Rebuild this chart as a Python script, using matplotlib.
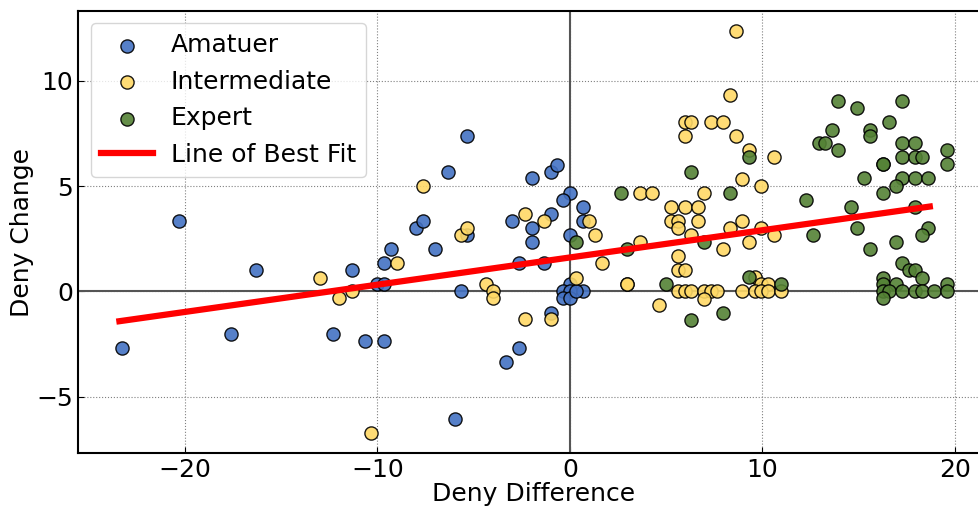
import matplotlib.pyplot as plt

# --- data --------------------------------------------------------------------

amateur_x = [-20.3, -23.26, -16.29, -11.31, -17.6, -12.3, -10.64, -9.65, -9.31, -9.65,
             -10.0, -9.65, -8.0, -7.65, -5.32, -6.31, -1.99, -1.0, -0.67, 0.0,
             -0.35, 0.66, -3.0, -1.0, 0.66, -1.99, -5.34, 0.0, -1.99, -6.98,
             -2.66, -1.35, -5.68, 0.0, -0.35, 0.0, 0.66, -0.35, 0.0, 0.33,
             -1.0, -2.66, -3.33, -5.99]
amateur_y = [3.33, -2.70, 1.0, 1.0, -2.04, -2.04, -2.35, -2.35, 2.0, 1.34,
             0.33, 0.33, 3.0, 3.35, 7.38, 5.69, 5.37, 5.69, 6.02, 4.68,
             4.36, 4.01, 3.35, 3.67, 3.35, 3.02, 2.67, 2.67, 2.34, 2.0,
             1.34, 1.34, 0.0, 0.35, 0.0, 0.0, 0.0, -0.33, -0.33, 0.0,
             -1.01, -2.67, -3.35, -6.07]

inter_x = [-12.97, -11.99, -11.31, -10.31, -8.98, -7.65, -2.35, -1.35, 1.0, -5.68,
           -5.32, 1.31, 1.66, -4.34, -3.99, -3.99, 0.33, 2.95, -1.0, -2.35,
           8.62, 8.32, 5.97, 6.27, 7.31, 7.96, 5.97, 8.62, 9.33, 10.6,
           8.96, 9.95, 3.64, 4.28, 6.98, 5.28, 5.97, 6.65, 5.28, 5.63,
           6.65, 5.63, 8.96, 8.32, 9.95, 6.3, 10.6, 3.64, 9.31, 7.96,
           5.63, 5.63, 5.97, 2.97, 9.64, 9.95, 10.3,
           5.63, 5.97, 6.3, 6.98, 7.31, 7.65, 8.96, 9.64, 9.95, 10.3, 10.95,
           6.98, 4.63]
inter_y = [0.65, -0.33, 0.0, -6.73, 1.34, 5.0, 3.67, 3.35, 3.35, 2.67,
           3.02, 2.67, 1.34, 0.35, 0.0, -0.33, 0.65, 0.35, -1.33, -1.33,
           12.37, 9.35, 8.04, 8.04, 8.04, 8.04, 7.38, 7.38, 6.71, 6.38,
           5.36, 5.02, 4.69, 4.69, 4.69, 4.01, 4.01, 4.01, 3.36, 3.36,
           3.36, 3.0, 3.36, 3.0, 3.0, 2.67, 2.67, 2.36, 2.36, 2.02,
           1.67, 1.01, 1.01, 0.33, 0.68, 0.33, 0.33,
           0.0, 0.0, 0.0, 0.0, 0.0, 0.0, 0.0, 0.0, 0.0, 0.0, 0.0,
           -0.35, -0.66]

expert_x = [2.64, 0.33, 2.97, 6.27, 8.32, 9.33, 6.98, 4.99, 9.31, 10.95,
            7.96, 6.27, 13.94, 17.27, 14.94, 16.6, 13.61, 15.6, 15.6, 12.95,
            13.28, 17.27, 17.93, 13.94, 19.6, 17.27, 17.93, 18.27, 16.28, 16.28,
            19.6, 15.3, 17.27, 17.93, 18.62, 16.94, 16.28, 12.28, 14.61, 17.93,
            14.94, 18.62, 18.27, 12.63, 16.94, 15.6, 17.27, 17.6, 17.93, 18.27,
            16.28, 16.28, 16.94, 19.6,
            16.28, 16.6, 17.27, 17.93, 18.27, 18.93, 19.6,
            16.28]
expert_y = [4.68, 2.34, 2.02, 5.67, 4.69, 6.38, 2.36, 0.33, 0.68, 0.33,
            -1.01, -1.36, 9.04, 9.04, 8.7, 8.04, 7.68, 7.68, 7.38, 7.03,
            7.03, 7.03, 7.03, 6.7, 6.7, 6.37, 6.37, 6.37, 6.03, 6.03,
            6.03, 5.37, 5.37, 5.37, 5.37, 5.02, 4.68, 4.36, 4.01, 4.01,
            3.0, 3.0, 2.67, 2.67, 2.34, 1.99, 1.33, 1.0, 1.0, 0.65,
            0.65, 0.33, 0.33, 0.33,
            0.0, 0.0, 0.0, 0.0, 0.0, 0.0, 0.0,
            -0.33]

fit_x = [-23.4, 18.7]
fit_y = [-1.42, 4.03]

# --- figure ------------------------------------------------------------------

plt.rcParams['font.size'] = 18

fig = plt.figure(figsize=(9.79, 5.09), dpi=100)
ax = fig.add_axes([0.0797, 0.110, 0.930, 0.8684])

ax.axhline(0, color='#555555', lw=1.5, zorder=1)
ax.axvline(0, color='#555555', lw=1.5, zorder=1)

ax.scatter(amateur_x, amateur_y, s=90, color='#4472C4', edgecolor='black',
           linewidth=1, alpha=0.9, label='Amatuer', zorder=3)
ax.scatter(inter_x, inter_y, s=90, color='#FFD966', edgecolor='black',
           linewidth=1, alpha=0.9, label='Intermediate', zorder=3)
ax.scatter(expert_x, expert_y, s=90, color='#548235', edgecolor='black',
           linewidth=1, alpha=0.9, label='Expert', zorder=3)
ax.plot(fit_x, fit_y, color='red', lw=4.5, label='Line of Best Fit', zorder=4)

ax.grid(True, linestyle=':', color='gray', lw=0.8)
ax.set_axisbelow(True)
ax.tick_params(direction='in', length=4, labelsize=18)
for sp in ax.spines.values():
    sp.set_linewidth(1.5)

ax.set_xlabel('Deny Difference', fontsize=18, labelpad=0)
ax.set_ylabel('Deny Change', fontsize=18, labelpad=2)
ax.legend(loc='upper left', fontsize=18, handlelength=2.1, handletextpad=0.7)

fig.savefig('out.png', dpi=100)
